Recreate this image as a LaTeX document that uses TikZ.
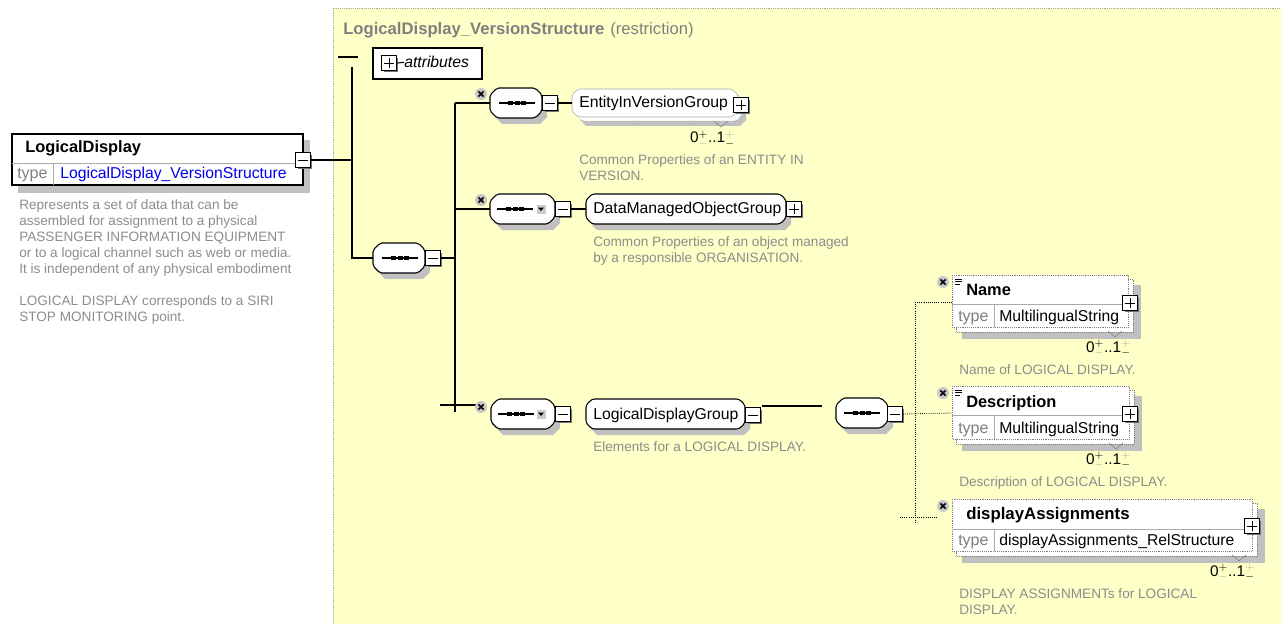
\documentclass[tikz,border=0pt]{standalone}
\usepackage{fontspec}
\setmainfont{Liberation Sans}
\usetikzlibrary{calc,shadows}

\definecolor{bgyel}{RGB}{255,255,200}
\definecolor{shad}{RGB}{192,192,192}
\definecolor{dtxt}{RGB}{140,140,140}
\definecolor{ttxt}{RGB}{128,128,128}
\definecolor{lnk}{RGB}{0,0,240}
\definecolor{xgray}{RGB}{200,200,200}
\definecolor{lgray}{RGB}{170,170,170}

% octagonal outline used by compositors and groups
\newcommand\octa[5]{(#1+#5,#2) -- (#3-#5,#2) -- (#3,#2+#5) -- (#3,#4-#5) -- (#3-#5,#4) -- (#1+#5,#4) -- (#1,#4-#5) -- (#1,#2+#5) -- cycle}

% sequence compositor: x1 y1 x2 y2
\newcommand\compo[4]{%
  \fill[shad] [shift={(5,6)}] \octa{#1}{#2}{#3}{#4}{7};
  \draw[fill=white, line width=0.8pt, rounded corners=1.5pt] \octa{#1}{#2}{#3}{#4}{7};}

% three-square sequence glyph centred at (x,y)
\newcommand\seqglyph[2]{%
  \draw[line width=0.8pt] (#1-18,#2) -- (#1+18,#2);
  \fill (#1-9,#2-2.2) rectangle (#1-4,#2+2.2);
  \fill (#1-2.5,#2-2.2) rectangle (#1+2.5,#2+2.2);
  \fill (#1+4,#2-2.2) rectangle (#1+9,#2+2.2);}

% small drop-down marker
\newcommand\ddmark[2]{%
  \fill[lgray!60] (#1-4.5,#2-4.5) rectangle (#1+4.5,#2+4.5);
  \draw[white] (#1-4.5,#2+4.5) -- (#1-4.5,#2-4.5) -- (#1+4.5,#2-4.5);
  \fill (#1-3,#2-1.5) -- (#1+3,#2-1.5) -- (#1,#2+2) -- cycle;}

% optional marker
\newcommand\xmk[2]{%
  \fill[xgray] (#1,#2) circle (6);
  \draw[line width=1.2pt] (#1-2.6,#2-2.6) -- (#1+2.6,#2+2.6) (#1-2.6,#2+2.6) -- (#1+2.6,#2-2.6);}

% element box with stacked copy: x1 y1 x2 y2 separator-y
\newcommand\elem[5]{%
  \fill[shad] (#1+10,#2+10) rectangle (#3+13,#4+12);
  \draw[densely dotted, ttxt, fill=white] (#1+4,#2+4) rectangle (#3+5,#4+5);
  \draw[densely dotted, ttxt, fill=white] (#1,#2) rectangle (#3,#4);
  \draw[lgray] (#1,#5) -- (#3,#5) (994,#5) -- (994,#4);
  \draw[ttxt] (#3-20,#4+4) -- (#3-13,#4+10) -- (#3-6,#4+4);}

% documentation icon
\newcommand\docicon[2]{%
  \draw[line width=0.7pt] (#1,#2) -- (#1+7,#2) (#1,#2+2.5) -- (#1+7,#2+2.5) (#1,#2+5) -- (#1+5,#2+5);}

\newcommand\multi{0$^{+}_{\textcolor{lgray}{-}}$..1$^{\textcolor{lgray}{+}}_{-}$}

\tikzset{
  lbl/.style={anchor=base west, inner sep=0, font=\fontsize{11.8}{13}\selectfont},
  ttl/.style={anchor=base west, inner sep=0, font=\bfseries\fontsize{12.3}{14}\selectfont},
  tword/.style={anchor=base west, inner sep=0, text=ttxt, font=\fontsize{12}{13}\selectfont},
  desc/.style={anchor=north west, inner sep=0, align=left, text=dtxt, font=\fontsize{10.2}{12}\selectfont},
  mlt/.style={anchor=base east, inner sep=0, font=\fontsize{11.5}{12}\selectfont},
  expbox/.style={draw=black, fill=white, line width=0.9pt, minimum size=11pt, inner sep=0,
    drop shadow={shadow xshift=1.6pt, shadow yshift=-1.6pt, opacity=1, fill=black!55}},
  minusbox/.style={expbox, path picture={\draw[line width=0.7pt]
     ([xshift=2pt]path picture bounding box.west) -- ([xshift=-2pt]path picture bounding box.east);}},
  plusbox/.style={expbox, path picture={\draw[line width=0.7pt]
     ([xshift=2pt]path picture bounding box.west) -- ([xshift=-2pt]path picture bounding box.east)
     ([yshift=2pt]path picture bounding box.south) -- ([yshift=-2pt]path picture bounding box.north);}},
  conn/.style={line width=0.8pt},
  dconn/.style={densely dotted, line width=0.6pt},
}

\begin{document}
\begin{tikzpicture}[x=0.75pt,y=-0.75pt]
\useasboundingbox (0,0) rectangle (1281,624);

% ---- schema area ----
\fill[bgyel] (333,8) rectangle (1290,630);
\draw[lgray, densely dotted] (333,630) -- (333,8) -- (1290,8);
\node[ttl, text=ttxt, font=\bfseries\fontsize{12.5}{14}\selectfont] (stitle) at (343,35) {LogicalDisplay\_VersionStructure};
\node[tword, font=\fontsize{12.5}{14}\selectfont] at ([xshift=4pt]stitle.base east) {(restriction)};

% ---- LogicalDisplay element ----
\fill[shad] (18,140) rectangle (310,193);
\draw[line width=0.9pt, fill=white] (12,134) rectangle (303,185);
\draw[lgray] (12,163) -- (303,163) (53,163) -- (53,185);
\node[ttl] at (25,153) {LogicalDisplay};
\node[tword] at (17,179) {type};
\node[lbl, text=lnk] at (60,179) {LogicalDisplay\_VersionStructure};
\node[minusbox] (ldm) at (303,160) {};
\node[desc] at (19,199) {Represents a set of data that can be\\
assembled for assignment to a physical\\
PASSENGER INFORMATION EQUIPMENT\\
or to a logical channel such as web or media.\\
It is independent of any physical embodiment\\[12pt]
LOGICAL DISPLAY corresponds to a SIRI\\
STOP MONITORING point.};

% ---- attributes ----
\coordinate (atl) at (338,57);
\coordinate (atr) at (358,57);
\draw[conn] (atl) -- (atr);
\draw[line width=0.8pt, fill=white] (373,48) rectangle (482,79);
\node[plusbox] (attp) at (389,63) {};
\node[lbl, font=\itshape\fontsize{11.8}{13}\selectfont] (attt) at (404,68) {attributes};
\draw[conn] (attp.east) -- (attt.west);

% ---- main sequence ----
\coordinate (sp0t) at (352,67);
\coordinate (sp0m) at (352,160);
\coordinate (sp0b) at (352,258);
\coordinate (c0w) at (373,258);
\draw[conn] (ldm.east) -- (sp0m);
\draw[conn] (sp0t) -- (sp0b) -- (c0w);
\compo{373}{243}{425}{273}
\seqglyph{400}{258}
\node[minusbox] (c0m) at (433,258) {};

\coordinate (sp1t) at (455,103);
\coordinate (sp1m) at (455,258);
\coordinate (sp1b) at (455,412);
\coordinate (sp1s) at (455,209);
\coordinate (bl) at (440,405);
\coordinate (br) at (476,405);
\draw[conn] (c0m.east) -- (sp1m);
\draw[conn] (sp1t) -- (sp1b);
\draw[conn] (bl) -- (br);

% ---- EntityInVersionGroup ----
\coordinate (c1w) at (490,103);
\draw[conn] (sp1t) -- (c1w);
\compo{490}{88}{542}{118}
\seqglyph{517}{103}
\xmk{481}{94}
\node[minusbox] (c1m) at (550,103) {};
\fill[shad] [shift={(8,9)}] \octa{572}{89}{738}{117}{6};
\draw[densely dotted, lgray, fill=white, rounded corners=1.5pt] [shift={(4,4)}] \octa{572}{89}{738}{117}{6};
\draw[lgray, fill=white, rounded corners=1.5pt] \octa{572}{89}{738}{117}{6};
\draw[ttxt] (714,121) -- (721,127) -- (728,121);
\coordinate (g1w) at (572,103);
\draw[conn] (c1m.east) -- (g1w);
\node[lbl] at (579,108) {EntityInVersionGroup};
\node[plusbox] (g1p) at (741,105) {};
\node[mlt] at (735,143) {\multi};
\node[desc] at (579,154) {Common Properties of an ENTITY IN\\VERSION.};

% ---- DataManagedObjectGroup ----
\coordinate (c2w) at (490,209);
\draw[conn] (sp1s) -- (c2w);
\compo{490}{194}{555}{224}
\seqglyph{515}{209}
\ddmark{541}{209}
\xmk{481}{200}
\node[minusbox] (c2m) at (563,209) {};
\fill[shad] [shift={(5,6)}] \octa{586}{194}{786}{224}{6};
\draw[line width=0.8pt, fill=white, rounded corners=2pt] \octa{586}{194}{786}{224}{6};
\coordinate (g2w) at (586,209);
\draw[conn] (c2m.east) -- (g2w);
\node[lbl] at (593,214) {DataManagedObjectGroup};
\node[plusbox] (g2p) at (794,209) {};
\node[desc] at (593,236) {Common Properties of an object managed\\by a responsible ORGANISATION.};

% ---- LogicalDisplayGroup ----
\compo{491}{399}{555}{429}
\seqglyph{516}{414}
\ddmark{541}{414}
\xmk{481}{407}
\node[minusbox] (c3m) at (563,414) {};
\fill[shad] [shift={(5,6)}] \octa{586}{399}{745}{429}{6};
\draw[line width=0.8pt, fill=white, rounded corners=2pt] \octa{586}{399}{745}{429}{6};
\node[lbl] at (593,419) {LogicalDisplayGroup};
\node[minusbox] (g3m) at (753,415) {};
\node[desc] at (593,441) {Elements for a LOGICAL DISPLAY.};

% ---- inner sequence ----
\coordinate (l3a) at (762,406);
\coordinate (l3b) at (822,406);
\draw[conn] (l3a) -- (l3b);
\compo{836}{398}{888}{428}
\seqglyph{862}{413}
\node[minusbox] (c4m) at (895,414) {};

\coordinate (sp2t) at (915,302);
\coordinate (sp2b) at (915,523);
\coordinate (e1w) at (952,302);
\coordinate (e2w) at (952,413);
\coordinate (e3l) at (900,517);
\coordinate (e3r) at (937,517);
\draw[dconn] (sp2t) -- (sp2b);
\draw[dconn] (sp2t) -- (e1w);
\draw[dconn] (c4m.east) -- (e2w);
\draw[dconn] (e3l) -- (e3r);

% ---- Name ----
\elem{952}{275}{1128}{327}{304}
\xmk{943}{282}
\docicon{955}{279}
\node[ttl] at (966,295) {Name};
\node[tword] at (958,321) {type};
\node[lbl] at (999,321) {MultilingualString};
\node[plusbox] (e1p) at (1130,303) {};
\node[mlt] at (1131,352) {\multi};
\node[desc] at (959,364) {Name of LOGICAL DISPLAY.};

% ---- Description ----
\elem{952}{386}{1129}{439}{415}
\xmk{943}{393}
\docicon{955}{390}
\node[ttl] at (966,407) {Description};
\node[tword] at (958,433) {type};
\node[lbl] at (999,433) {MultilingualString};
\node[plusbox] (e2p) at (1130,414) {};
\node[mlt] at (1131,464) {\multi};
\node[desc] at (959,476) {Description of LOGICAL DISPLAY.};

% ---- displayAssignments ----
\elem{952}{499}{1252}{551}{529}
\xmk{943}{506}
\node[ttl, font=\bfseries\fontsize{12.6}{14}\selectfont] at (966,519) {displayAssignments};
\node[tword] at (958,545) {type};
\node[lbl] at (999,545) {displayAssignments\_RelStructure};
\node[plusbox] (e3p) at (1252,526) {};
\node[mlt] at (1255,576) {\multi};
\node[desc] at (959,588) {DISPLAY ASSIGNMENTs for LOGICAL\\DISPLAY.};
\end{tikzpicture}
\end{document}
